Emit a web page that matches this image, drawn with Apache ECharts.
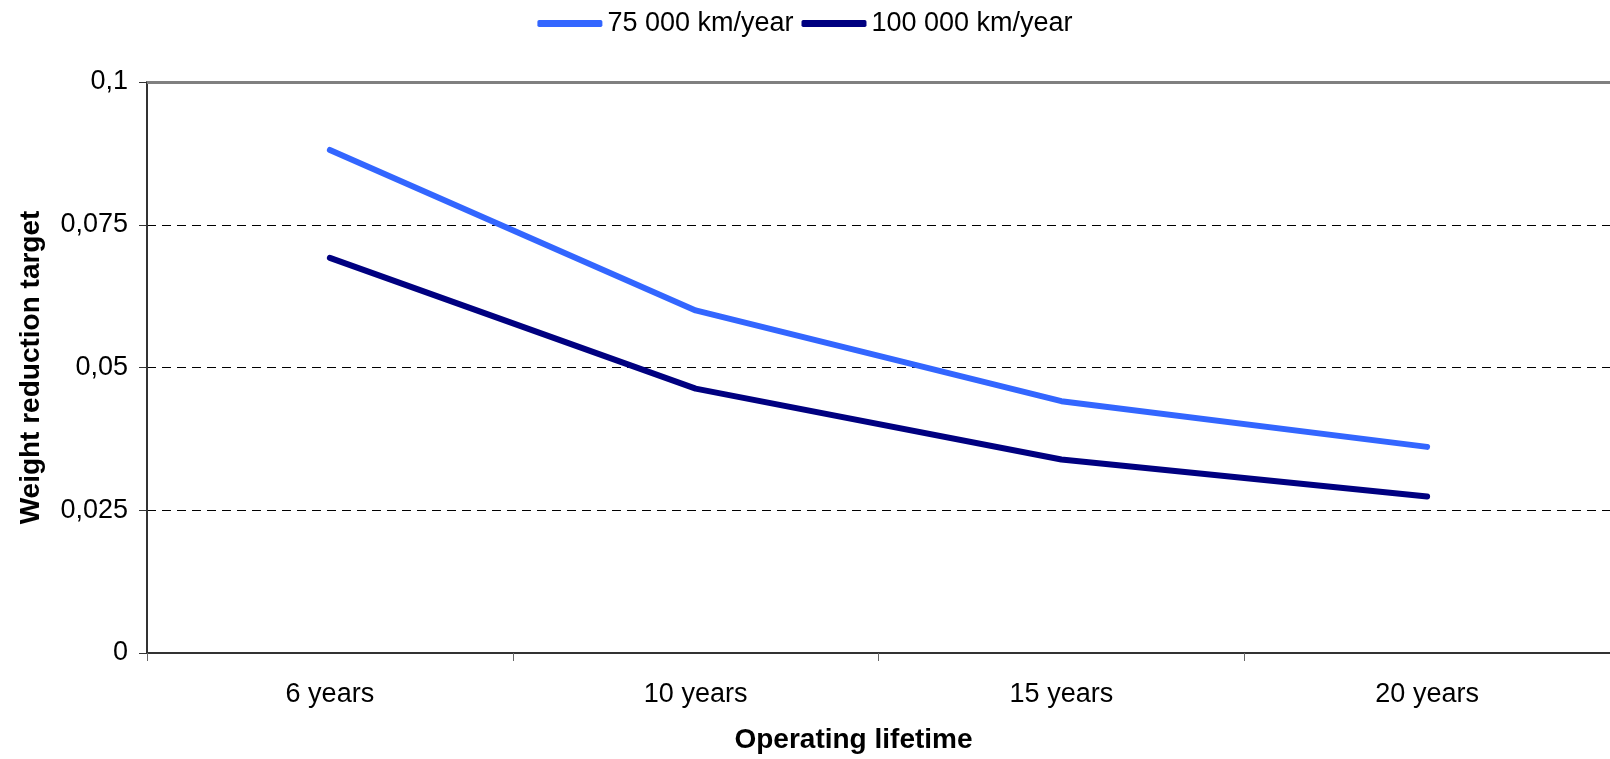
<!DOCTYPE html>
<html>
<head>
<meta charset="utf-8">
<script src="https://cdn.jsdelivr.net/npm/echarts@6/dist/echarts.min.js"></script>
<style>
  html, body { margin: 0; padding: 0; background: #ffffff; }
  #chart { width: 1610px; height: 759px; }
</style>
</head>
<body>
<div id="chart"></div>
<script>
// Operating lifetime categories and weight reduction targets per annual mileage
const categories = ['6 years', '10 years', '15 years', '20 years'];
const seriesNames = ['75 000 km/year', '100 000 km/year'];
const km75000 = [0.0881, 0.0600, 0.0441, 0.0361];
const km100000 = [0.0692, 0.0463, 0.0339, 0.0274];
const yTicks = [0, 0.025, 0.05, 0.075, 0.1];

const FONT = '"Liberation Sans", Arial, sans-serif';

const chart = echarts.init(document.getElementById('chart'), null, { renderer: 'canvas' });

const fmt = v => String(+v.toFixed(3)).replace('.', ',');

chart.setOption({
  backgroundColor: '#ffffff',
  animation: false,
  textStyle: { fontFamily: FONT },
  legend: {
    top: 5,
    left: 'center',
    itemWidth: 65,
    itemHeight: 7,
    itemGap: 8,
    icon: 'roundRect',
    textStyle: { fontSize: 27, color: '#000000', fontFamily: FONT },
    data: seriesNames
  },
  grid: { left: 147, top: 82, right: -9, bottom: 105, containLabel: false },
  xAxis: {
    type: 'category',
    data: categories,
    boundaryGap: true,
    name: 'Operating lifetime',
    nameLocation: 'middle',
    nameGap: 73,
    nameTextStyle: { fontSize: 28, fontWeight: 'bold', color: '#000000', fontFamily: FONT, padding: [0, 50, 0, 0] },
    axisLine: { lineStyle: { color: '#333333', width: 2 } },
    axisTick: { show: true, length: 8, lineStyle: { color: '#666666', width: 1 } },
    axisLabel: { fontSize: 27, color: '#000000', margin: 28, fontFamily: FONT },
    splitLine: { show: false }
  },
  yAxis: {
    type: 'value',
    min: yTicks[0],
    max: yTicks[yTicks.length - 1],
    interval: 0.025,
    name: 'Weight reduction target',
    nameLocation: 'middle',
    nameGap: 102,
    nameTextStyle: { fontSize: 28, fontWeight: 'bold', color: '#000000', fontFamily: FONT },
    axisLine: { show: true, lineStyle: { color: '#333333', width: 2 } },
    axisTick: { show: true, length: 8, lineStyle: { color: '#333333', width: 1 } },
    axisLabel: { fontSize: 27, color: '#000000', margin: 19, fontFamily: FONT, formatter: fmt },
    splitLine: { show: true, lineStyle: { color: '#000000', width: 1, type: [9, 6] } }
  },
  series: [
    {
      name: seriesNames[0],
      type: 'line',
      data: km75000,
      symbol: 'none',
      color: '#3366FF',
      lineStyle: { width: 6, color: '#3366FF', cap: 'round', join: 'round' },
      markLine: {
        silent: true,
        symbol: ['none', 'none'],
        label: { show: false },
        lineStyle: { color: '#808080', width: 3, type: 'solid' },
        data: [{ yAxis: yTicks[yTicks.length - 1] }]
      }
    },
    {
      name: seriesNames[1],
      type: 'line',
      data: km100000,
      symbol: 'none',
      color: '#000080',
      lineStyle: { width: 6, color: '#000080', cap: 'round', join: 'round' }
    }
  ]
});
</script>
</body>
</html>
